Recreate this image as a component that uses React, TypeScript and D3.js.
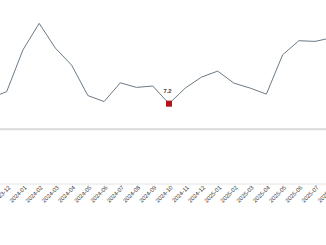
import React from "react";
import * as d3 from "d3";

const months = [
  "2023-11", "2023-12", "2024-01", "2024-02", "2024-03", "2024-04", "2024-05", "2024-06",
  "2024-07", "2024-08", "2024-09", "2024-10", "2024-11", "2024-12", "2025-01", "2025-02",
  "2025-03", "2025-04", "2025-05", "2025-06", "2025-07", "2025-08",
];
const values = [
  8.8, 10.6, 22.4, 29.9, 22.9, 18.1, 9.5, 7.8,
  13.1, 11.8, 12.2, 7.2, 11.6, 14.7, 16.4, 13.0,
  11.6, 9.9, 21.0, 25.0, 24.8, 25.8,
];
const highlightMonth = "2024-10";

const W = 326;
const H = 245;

export default function App() {
  const x = d3.scalePoint<string>().domain(months).range([-9.53, 331.3]).padding(0);
  const y = d3.scaleLinear().domain([-15.5, 36.5]).range([184, 0]);
  const data = months.map((m, i) => ({ m, v: values[i] }));
  const line = d3
    .line<{ m: string; v: number }>()
    .x((d) => x(d.m) as number)
    .y((d) => y(d.v));
  const hi = data.find((d) => d.m === highlightMonth)!;
  const hx = x(hi.m) as number;
  const hy = y(hi.v);
  return (
    <svg
      width={W}
      height={H}
      style={{ position: "absolute", left: 0, top: 0, background: "#fff", overflow: "hidden" }}
      fontFamily="'Liberation Sans', Arial, sans-serif"
    >
      <line x1={0} x2={W} y1={y(0)} y2={y(0)} stroke="#d9d9d9" strokeWidth={2} />
      <line x1={0} x2={W} y1={184} y2={184} stroke="#e4e4e4" strokeWidth={1} />
      <path d={line(data) || ""} fill="none" stroke="#6a7a88" strokeWidth={1} />
      <rect x={hx - 3} y={hy - 3} width={6} height={6} fill="#b3141c" />
      <text x={hx - 1.5} y={hy - 10.5} textAnchor="middle" fontSize={5.8} fontWeight="bold" fill="#404040">
        {hi.v.toFixed(1)}
      </text>
      {months.map((m) => {
        const tx = (x(m) as number) + 4;
        const ty = 188;
        return (
          <text
            key={m}
            x={tx}
            y={ty}
            transform={`rotate(-45 ${tx} ${ty})`}
            textAnchor="end"
            fontSize={5.8}
            fill="#3a3a3a"
          >
            {m}
          </text>
        );
      })}
    </svg>
  );
}
